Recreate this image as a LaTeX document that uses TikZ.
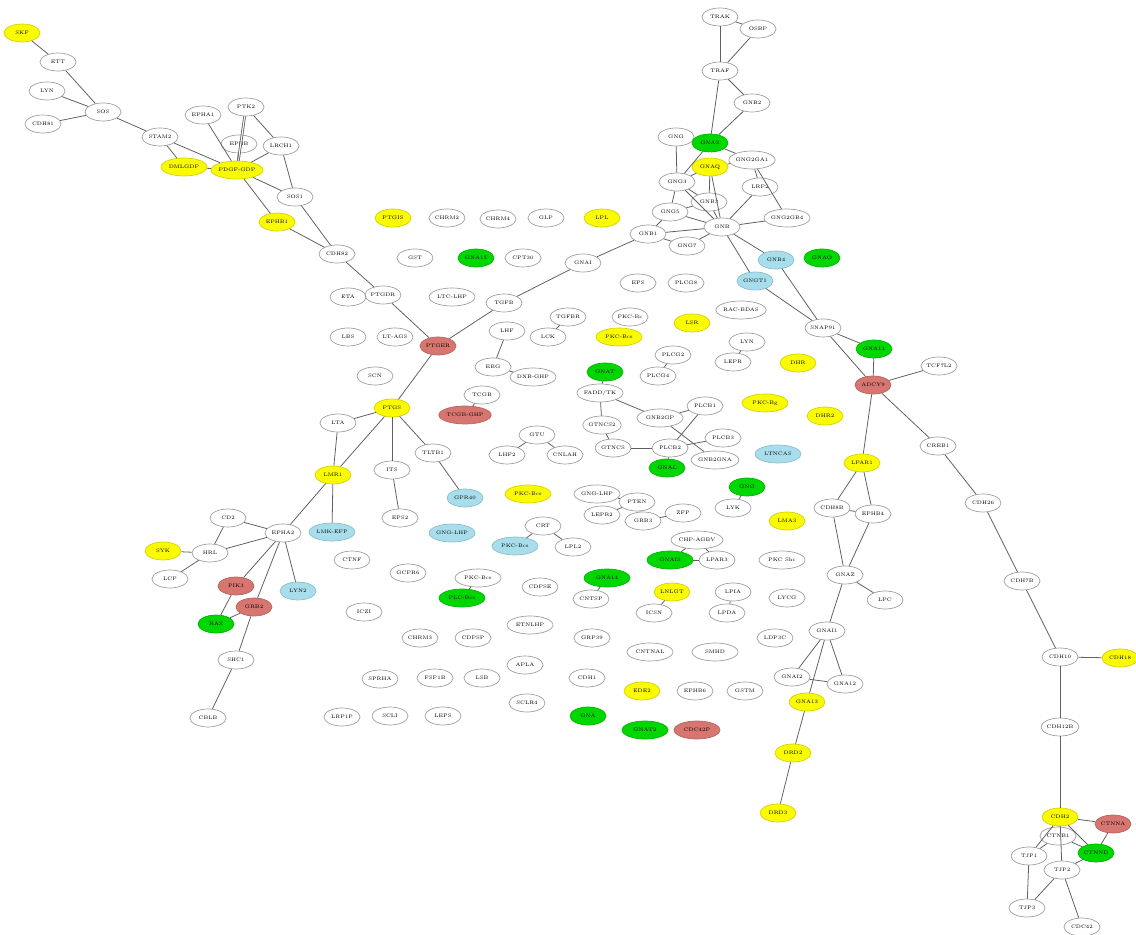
\documentclass[tikz,border=0pt]{standalone}
\usetikzlibrary{shapes.geometric}
\definecolor{genyel}{RGB}{250,250,0}
\definecolor{gengrn}{RGB}{0,215,0}
\definecolor{gensal}{RGB}{215,118,112}
\definecolor{genblu}{RGB}{168,222,236}
\tikzset{
  gene/.style={ellipse, draw=gray!75, line width=0.4pt, inner sep=0pt,
    minimum width=0.72cm, minimum height=0.36cm, font=\fontsize{2.9}{3.5}\selectfont},
  wide/.style={minimum width=0.92cm},
  yel/.style={gene, fill=genyel, draw=genyel!85!black},
  grn/.style={gene, fill=gengrn, draw=gengrn!85!black},
  sal/.style={gene, fill=gensal, draw=gensal!85!black},
  blu/.style={gene, fill=genblu, draw=genblu!85!black},
  link/.style={draw=gray!75!black, line width=0.45pt}
}
\begin{document}
\begin{tikzpicture}[x=0.02cm,y=-0.02cm]
	\useasboundingbox (0,0) rectangle (1136,935);
	% upper left branch
	\node[yel] (skf) at (22,33) {SKF};
	\node[gene] (ett) at (58,62) {ETT};
	\node[gene] (lyn) at (47,91) {LYN};
	\node[gene] (cdh81) at (43,124) {CDH81};
	\node[gene] (sos) at (103,112) {SOS};
	\node[gene] (stam) at (160,137) {STAM2};
	\node[gene] (epha) at (203,115) {EPHA1};
	\node[gene] (ptk) at (246,107) {PTK2};
	\node[gene] (ephb) at (239,144) {EPHB};
	\node[gene] (lrch) at (281,146) {LRCH1};
	\node[yel,wide] (dmlg) at (184,167) {DMLGDP};
	\node[yel,wide] (pdgf) at (237,170) {PDGF-GDP};
	\node[gene] (sosb) at (295,197) {SOS1};
	\node[yel] (ephba) at (277,222) {EPHB1};
	\node[gene] (cdh82) at (337,254) {CDH82};
	\node[gene] (ptgdr) at (383,295) {PTGDR};
	\node[sal] (ptger) at (438,346) {PTGER};
	\node[gene] (tgfb) at (504,303) {TGFB};
	\node[gene] (gnai) at (583,263) {GNAI};
	\node[gene] (gnba) at (648,234) {GNB1};
	\draw[link] (skf) -- (ett); \draw[link] (ett) -- (sos);
	\draw[link] (lyn) -- (sos); \draw[link] (cdh81) -- (sos);
	\draw[link] (sos) -- (stam); \draw[link] (stam) -- (dmlg);
	\draw[link] (stam) -- (pdgf); \draw[link] (epha) -- (pdgf);
	\draw[link,double distance=0.6pt] (ptk) -- (pdgf);
	\draw[link] (ptk) -- (lrch); \draw[link] (ephb) -- (pdgf);
	\draw[link] (lrch) -- (pdgf); \draw[link] (lrch) -- (sosb);
	\draw[link] (pdgf) -- (sosb); \draw[link] (dmlg) -- (pdgf);
	\draw[link] (pdgf) -- (ephba); \draw[link] (ephba) -- (cdh82);
	\draw[link] (sosb) -- (cdh82); \draw[link] (cdh82) -- (ptgdr);
	\draw[link] (ptgdr) -- (ptger); \draw[link] (ptger) -- (tgfb);
	\draw[link] (tgfb) -- (gnai); \draw[link] (gnai) -- (gnba);
	% upper right cluster
	\node[gene] (trak) at (720,17) {TRAK};
	\node[gene] (osbp) at (758,29) {OSBP};
	\node[gene] (traf) at (720,71) {TRAF};
	\node[gene] (gnbb) at (752,103) {GNB2};
	\node[gene] (gng) at (676,137) {GNG};
	\node[grn] (gnas) at (710,143) {GNAS};
	\node[yel] (gnaq) at (710,167) {GNAQ};
	\node[gene,wide] (ggaa) at (752,160) {GNG2GA1};
	\node[gene] (gngc) at (677,182) {GNG3};
	\node[gene] (lrp) at (760,187) {LRP2};
	\node[gene,wide] (ggab) at (787,218) {GNG2GB4};
	\node[gene] (gnbc) at (709,202) {GNB3};
	\node[gene] (gnge) at (670,212) {GNG5};
	\node[gene] (gnb) at (722,227) {GNB};
	\node[gene] (gngg) at (687,246) {GNG7};
	\draw[link] (trak) -- (osbp); \draw[link] (trak) -- (traf);
	\draw[link] (osbp) -- (traf); \draw[link] (traf) -- (gnbb);
	\draw[link] (traf) -- (gnas); \draw[link] (gnbb) -- (gnas);
	\draw[link] (gng) -- (gnas); \draw[link] (gng) -- (gngc);
	\draw[link,double distance=0.6pt] (gnas) -- (gnaq);
	\draw[link] (gnas) -- (ggaa); \draw[link] (gnas) -- (gngc);
	\draw[link] (gnaq) -- (gnbc); \draw[link] (gnaq) -- (gngc);
	\draw[link] (gnaq) -- (ggaa); \draw[link] (gnaq) -- (gnb);
	\draw[link] (ggaa) -- (lrp); \draw[link] (ggaa) -- (ggab);
	\draw[link] (lrp) -- (gnb); \draw[link] (gngc) -- (gnbc);
	\draw[link] (gngc) -- (gnge); \draw[link] (gngc) -- (gnb);
	\draw[link] (gnbc) -- (gnb); \draw[link] (gnbc) -- (gnge);
	\draw[link] (gnge) -- (gnba); \draw[link] (gnge) -- (gnb);
	\draw[link] (gnba) -- (gnb); \draw[link] (gngg) -- (gnb);
	\draw[link] (gnba) -- (gngg); \draw[link] (ggab) -- (gnb);
	% right chain
	\node[blu] (gnbd) at (776,260) {GNB4};
	\node[blu] (gngt) at (755,281) {GNGT1};
	\node[grn] (gnao) at (822,258) {GNAO};
	\node[gene] (snap) at (823,328) {SNAP91};
	\node[grn] (gnaa) at (874,349) {GNA11};
	\node[sal] (adcy) at (873,385) {ADCY9};
	\node[gene] (tcf) at (939,366) {TCF7L2};
	\node[gene] (creb) at (938,446) {CREB1};
	\node[yel] (lpar) at (862,463) {LPAR1};
	\node[gene] (cdhz) at (983,503) {CDH26};
	\node[gene] (cdhg) at (1022,581) {CDH7B};
	\node[gene] (cdhj) at (1060,657) {CDH10};
	\node[yel] (cdhr) at (1120,658) {CDH18};
	\node[gene] (cdhl) at (1060,727) {CDH12B};
	\node[yel] (cdhb) at (1060,817) {CDH2};
	\node[sal] (ctna) at (1113,824) {CTNNA};
	\node[grn] (ctnd) at (1096,853) {CTNND};
	\node[gene] (ctnb) at (1058,836) {CTNB1};
	\node[gene] (tjpa) at (1029,856) {TJP1};
	\node[gene] (tjpb) at (1062,870) {TJP2};
	\node[gene] (tjpc) at (1027,908) {TJP3};
	\node[gene] (cdc) at (1082,927) {CDC42};
	\draw[link] (gnb) -- (gnbd); \draw[link] (gnb) -- (gngt);
	\draw[link] (gnbd) -- (snap); \draw[link] (gngt) -- (snap);
	\draw[link] (snap) -- (gnaa); \draw[link] (snap) -- (adcy);
	\draw[link] (gnaa) -- (adcy); \draw[link] (adcy) -- (tcf);
	\draw[link] (adcy) -- (creb); \draw[link] (adcy) -- (lpar);
	\draw[link] (creb) -- (cdhz); \draw[link] (cdhz) -- (cdhg);
	\draw[link] (cdhg) -- (cdhj); \draw[link] (cdhj) -- (cdhr);
	\draw[link] (cdhj) -- (cdhl); \draw[link] (cdhl) -- (cdhb);
	\draw[link] (cdhb) -- (ctna); \draw[link] (cdhb) -- (ctnd);
	\draw[link] (ctna) -- (ctnd); \draw[link] (cdhb) -- (ctnb);
	\draw[link] (cdhb) -- (tjpa); \draw[link] (cdhb) -- (tjpb);
	\draw[link] (ctnb) -- (tjpa); \draw[link] (ctnb) -- (ctnd);
	\draw[link] (tjpb) -- (ctnd); \draw[link] (tjpa) -- (tjpc);
	\draw[link] (tjpb) -- (tjpc); \draw[link] (tjpb) -- (cdc);
	% middle right branch
	\node[gene] (cdhh) at (832,508) {CDH8B};
	\node[gene] (ephbd) at (873,514) {EPHB4};
	\node[gene] (gnaz) at (845,575) {GNAZ};
	\node[gene] (lpc) at (885,600) {LPC};
	\node[gene] (gnia) at (827,631) {GNAI1};
	\node[gene] (gnib) at (792,677) {GNAI2};
	\node[gene] (gnal) at (845,684) {GNA12};
	\node[yel] (gnam) at (807,702) {GNA13};
	\node[yel] (drdb) at (793,753) {DRD2};
	\node[yel] (drdc) at (778,813) {DRD3};
	\draw[link] (lpar) -- (cdhh); \draw[link] (lpar) -- (ephbd);
	\draw[link] (cdhh) -- (ephbd); \draw[link] (cdhh) -- (gnaz);
	\draw[link] (ephbd) -- (gnaz); \draw[link] (gnaz) -- (lpc);
	\draw[link] (gnaz) -- (gnia); \draw[link] (gnia) -- (gnib);
	\draw[link] (gnia) -- (gnal); \draw[link] (gnia) -- (gnam);
	\draw[link] (gnib) -- (gnal); \draw[link] (gnam) -- (drdb);
	\draw[link] (drdb) -- (drdc);
	% lower left branch
	\node[yel] (ptgs) at (392,408) {PTGS};
	\node[gene] (lta) at (338,423) {LTA};
	\node[yel] (lmr) at (333,475) {LMR1};
	\node[gene] (its) at (392,470) {ITS};
	\node[gene] (tltb) at (433,453) {TLTB1};
	\node[gene] (epsb) at (400,518) {EPS2};
	\node[blu] (gpr) at (465,498) {GPR40};
	\node[blu,wide] (lmk) at (332,532) {LMK-EFP};
	\node[gene] (ephaa) at (283,533) {EPHA2};
	\node[gene] (cd) at (228,518) {CD2};
	\node[gene] (hrl) at (210,553) {HRL};
	\node[yel] (syk) at (163,551) {SYK};
	\node[gene] (lcp) at (170,579) {LCP};
	\node[sal] (pik) at (236,586) {PIK3};
	\node[sal] (grb) at (254,607) {GRB2};
	\node[blu] (lynb) at (298,591) {LYN2};
	\node[grn] (ras) at (216,624) {RAS};
	\node[gene] (shc) at (236,660) {SHC1};
	\node[gene] (cbl) at (208,718) {CBLB};
	\draw[link] (ptger) -- (ptgs); \draw[link] (ptgs) -- (lta);
	\draw[link] (ptgs) -- (lmr); \draw[link] (lta) -- (lmr);
	\draw[link] (ptgs) -- (its); \draw[link] (ptgs) -- (tltb);
	\draw[link] (its) -- (epsb); \draw[link] (tltb) -- (gpr);
	\draw[link] (lmr) -- (lmk); \draw[link] (lmr) -- (ephaa);
	\draw[link] (ephaa) -- (cd); \draw[link] (ephaa) -- (hrl);
	\draw[link] (cd) -- (hrl); \draw[link] (syk) -- (hrl);
	\draw[link] (lcp) -- (hrl); \draw[link] (ephaa) -- (pik);
	\draw[link] (ephaa) -- (grb); \draw[link] (ephaa) -- (lynb);
	\draw[link] (pik) -- (ras); \draw[link] (grb) -- (ras);
	\draw[link] (grb) -- (shc); \draw[link] (shc) -- (cbl);
	% scattered genes
	\node[yel] (ptgi) at (393,218) {PTGIS};
	\node[gene] (chrb) at (447,218) {CHRM2};
	\node[gene] (chrd) at (498,219) {CHRM4};
	\node[gene] (glp) at (546,218) {GLP};
	\node[yel] (lpl) at (602,218) {LPL};
	\node[gene] (gst) at (415,258) {GST};
	\node[grn] (gnaf) at (476,258) {GNA15};
	\node[gene] (cpt) at (523,258) {CPT30};
	\node[gene] (eps) at (638,283) {EPS};
	\node[gene] (plch) at (686,283) {PLCG8};
	\node[gene,wide] (racb) at (741,310) {RAC-BDAS};
	\node[gene] (eta) at (348,297) {ETA};
	\node[gene,wide] (ltc) at (452,297) {LTC-LHP};
	\node[gene] (tgfr) at (568,317) {TGFBR};
	\node[gene] (lck) at (548,337) {LCK};
	\node[gene] (lhf) at (507,331) {LHF};
	\node[gene] (lbs) at (348,337) {LBS};
	\node[gene] (ltag) at (395,337) {LT-AGS};
	\node[gene] (pkca) at (630,317) {PKC-Bc};
	\node[yel,wide] (pkcb) at (619,337) {PKC-Bcs};
	\node[yel] (lsr) at (692,323) {LSR};
	\node[gene] (lync) at (747,342) {LYN};
	\node[gene] (lepr) at (733,362) {LEPR};
	\node[gene] (plcb) at (673,355) {PLCG2};
	\node[gene] (plcd) at (658,376) {PLCG4};
	\node[grn] (gnat) at (605,372) {GNAT};
	\node[gene] (ebg) at (493,367) {EBG};
	\node[gene,wide] (dnb) at (533,377) {DNB-GHP};
	\node[gene] (scn) at (375,376) {SCN};
	\node[gene] (tcgb) at (482,395) {TCGB};
	\node[sal,wide] (tcgh) at (465,415) {TCGB-GHP};
	\node[gene,wide] (fadd) at (600,393) {FADD/TK};
	\node[gene,wide] (gnbp) at (660,418) {GNB2GP};
	\node[gene] (pbca) at (705,406) {PLCB1};
	\node[gene] (pbcc) at (723,438) {PLCB3};
	\node[gene,wide] (gnbg) at (715,460) {GNB2GNA};
	\node[gene] (pbcb) at (670,448) {PLCB2};
	\node[gene] (gtna) at (613,448) {GTNCS};
	\node[gene] (gtnb) at (602,425) {GTNCS2};
	\node[grn] (gnol) at (667,468) {GNAL};
	\node[gene] (gtu) at (537,435) {GTU};
	\node[gene] (lhfb) at (507,455) {LHF2};
	\node[gene] (cnl) at (565,455) {CNLAH};
	\node[yel] (dhr) at (798,363) {DHR};
	\node[yel,wide] (pkcg) at (765,403) {PKC-Bg};
	\node[yel] (dhrb) at (825,416) {DHR2};
	\node[blu,wide] (ltn) at (778,454) {LTNCAS};
	\node[yel,wide] (pkcd) at (528,494) {PKC-Bcs};
	\node[gene,wide] (gnglh) at (597,494) {GNG-LHP};
	\node[gene] (pten) at (637,502) {PTEN};
	\node[gene] (leprb) at (602,515) {LEPR2};
	\node[gene] (grbc) at (643,521) {GRB3};
	\node[gene] (zfp) at (683,513) {ZFP};
	\node[grn] (gngx) at (747,487) {GNG};
	\node[gene] (lyk) at (733,508) {LYK};
	\node[blu,wide] (gnglb) at (452,533) {GNG-LHP};
	\node[gene] (crt) at (543,526) {CRT};
	\node[blu,wide] (pkce) at (515,546) {PKC-Bcs};
	\node[gene] (lplb) at (573,547) {LPL2};
	\node[gene,wide] (chp) at (697,540) {CHP-AGBV};
	\node[grn,wide] (gnic) at (670,560) {GNAI3};
	\node[gene] (lpac) at (717,560) {LPAR3};
	\node[gene,wide] (pkcs) at (782,560) {PKC Shc};
	\node[yel] (lma) at (787,521) {LMA3};
	\node[gene] (lycg) at (787,598) {LYCG};
	\node[gene] (ldp) at (775,638) {LDP3C};
	\node[gene] (ctnf) at (352,560) {CTNF};
	\node[gene] (gcpr) at (408,573) {GCPR6};
	\node[gene,wide] (pkcf) at (478,578) {PKC-Bcs};
	\node[grn,wide] (plcx) at (462,598) {PLC-Bcs};
	\node[gene] (cdps) at (540,587) {CDPSE};
	\node[grn,wide] (gnaq14) at (607,578) {GNA14};
	\node[gene] (cnts) at (591,599) {CNTSP};
	\node[yel] (lnl) at (672,592) {LNLGT};
	\node[gene] (icsn) at (654,613) {ICSN};
	\node[gene] (lpia) at (733,592) {LPIA};
	\node[gene] (lpda) at (727,613) {LPDA};
	\node[gene] (iczi) at (364,612) {ICZI};
	\node[gene,wide] (etn) at (530,625) {ETNLHP};
	\node[gene] (chrc) at (420,638) {CHRM3};
	\node[gene] (cdpp) at (473,638) {CDPSP};
	\node[gene] (grp) at (592,638) {GRP39};
	\node[gene,wide] (cntn) at (650,652) {CNTNAL};
	\node[gene,wide] (smhd) at (715,652) {SMHD};
	\node[gene] (apla) at (525,665) {APLA};
	\node[gene] (sprh) at (380,679) {SPRHA};
	\node[gene] (fsp) at (435,678) {FSP1B};
	\node[gene] (lsb) at (482,678) {LSB};
	\node[gene] (cdha) at (587,678) {CDH1};
	\node[yel] (ede) at (642,691) {EDE2};
	\node[gene] (ephbf) at (695,691) {EPHB6};
	\node[gene] (gstm) at (745,691) {GSTM};
	\node[gene] (sclr) at (527,703) {SCLR4};
	\node[gene] (lrpp) at (342,717) {LRP1P};
	\node[gene] (scli) at (390,716) {SCLI};
	\node[gene] (leps) at (443,716) {LEPS};
	\node[grn] (gnay) at (588,716) {GNA};
	\node[grn,wide] (gnatb) at (645,730) {GNAT2};
	\node[sal,wide] (cdcp) at (697,730) {CDC42P};
	\draw[link] (lhf) -- (ebg); \draw[link] (ebg) -- (dnb);
	\draw[link] (tgfr) -- (lck); \draw[link] (plcb) -- (plcd);
	\draw[link] (lync) -- (lepr); \draw[link] (tcgb) -- (tcgh);
	\draw[link] (gnat) -- (fadd); \draw[link] (fadd) -- (gtnb);
	\draw[link] (fadd) -- (gnbp); \draw[link] (gnbp) -- (pbca);
	\draw[link] (gnbp) -- (gnbg); \draw[link] (pbca) -- (pbcb);
	\draw[link] (gtnb) -- (gtna); \draw[link] (gtna) -- (pbcb);
	\draw[link] (pbcb) -- (gnol); \draw[link] (pbcb) -- (pbcc);
	\draw[link] (gtu) -- (lhfb); \draw[link] (gtu) -- (cnl);
	\draw[link] (gnglh) -- (pten); \draw[link] (leprb) -- (pten);
	\draw[link] (pten) -- (grbc); \draw[link] (grbc) -- (zfp);
	\draw[link] (gngx) -- (lyk); \draw[link] (crt) -- (pkce);
	\draw[link] (crt) -- (lplb); \draw[link] (chp) -- (gnic);
	\draw[link] (chp) -- (lpac); \draw[link] (gnic) -- (lpac);
	\draw[link] (pkcf) -- (plcx); \draw[link] (gnaq14) -- (cnts);
	\draw[link] (lnl) -- (icsn); \draw[link] (lpia) -- (lpda);
\end{tikzpicture}
\end{document}
